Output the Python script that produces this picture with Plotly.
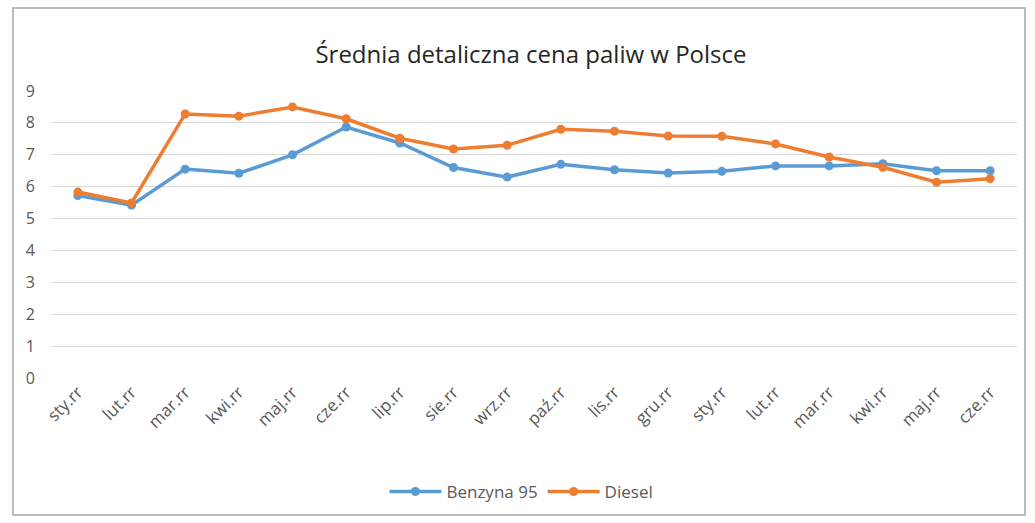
import plotly.graph_objects as go

months = ["sty.rr", "lut.rr", "mar.rr", "kwi.rr", "maj.rr", "cze.rr", "lip.rr", "sie.rr", "wrz.rr",
          "paź.rr", "lis.rr", "gru.rr", "sty.rr", "lut.rr", "mar.rr", "kwi.rr", "maj.rr", "cze.rr"]
benzyna = [5.72, 5.42, 6.55, 6.42, 7.0, 7.87, 7.37, 6.6, 6.3, 6.7, 6.53, 6.43, 6.48, 6.65, 6.65, 6.72, 6.5, 6.5]
diesel = [5.83, 5.49, 8.28, 8.21, 8.5, 8.13, 7.52, 7.18, 7.3, 7.8, 7.74, 7.59, 7.58, 7.34, 6.93, 6.61, 6.14, 6.25]
y_ticks = [0, 1, 2, 3, 4, 5, 6, 7, 8, 9]

idx = list(range(len(months)))
fnt = "'Open Sans', sans-serif"

fig = go.Figure()
fig.add_trace(go.Scatter(x=idx, y=benzyna, name="Benzyna 95", mode="lines+markers",
                         line=dict(color="#5B9BD5", width=3.5),
                         marker=dict(color="#5B9BD5", size=9, symbol="circle")))
fig.add_trace(go.Scatter(x=idx, y=diesel, name="Diesel", mode="lines+markers",
                         line=dict(color="#ED7D31", width=3.5),
                         marker=dict(color="#ED7D31", size=9, symbol="circle")))

fig.update_layout(
    width=1035, height=523,
    margin=dict(l=51, r=18, t=91, b=145, autoexpand=False),
    paper_bgcolor="white", plot_bgcolor="white",
    font=dict(family=fnt, size=14, color="#595959"),
    title=dict(text="Średnia detaliczna cena paliw w Polsce", x=0.513, xanchor="center",
               y=1 - 55 / 523, yanchor="middle",
               font=dict(family=fnt, size=24, color="#262626")),
    xaxis=dict(tickmode="array", tickvals=idx, ticktext=months, tickangle=-45,
               range=[-0.5, len(months) - 0.5], showgrid=False, zeroline=False,
               showline=False, ticks="", automargin=False,
               tickfont=dict(family=fnt, size=17, color="#595959")),
    yaxis=dict(range=[0, 9], tickvals=y_ticks, showgrid=True, gridcolor="#D9D9D9",
               gridwidth=1, zeroline=False, showline=False, ticks="", automargin=False,
               ticklabelstandoff=15,
               tickfont=dict(family=fnt, size=16, color="#595959")),
    legend=dict(orientation="h", x=0.487, xanchor="center", y=-0.397, yanchor="middle",
                itemwidth=52, tracegroupgap=0,
                font=dict(family=fnt, size=17, color="#595959")),
    showlegend=True,
    shapes=[dict(type="rect", xref="paper", yref="paper", x0=-38 / 966, x1=1 + 8 / 966,
                 y0=-137 / 287, y1=1 + 83 / 287, line=dict(color="#A6A6A6", width=1.5),
                 fillcolor="rgba(0,0,0,0)", layer="below")],
)

fig.write_html("out.html", config={"displayModeBar": False},
               post_script="document.body.style.margin='0';document.body.style.overflow='hidden';")
